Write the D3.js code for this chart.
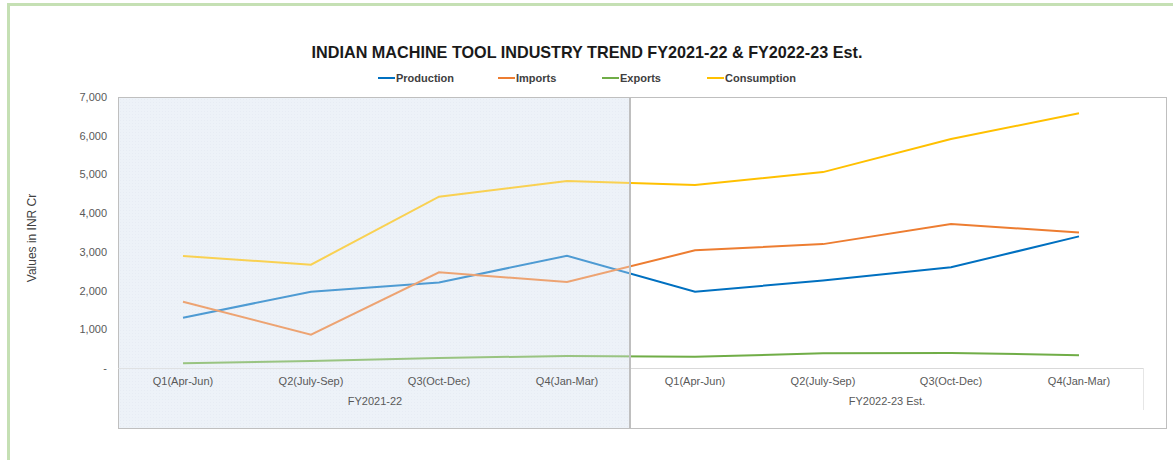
<!DOCTYPE html>
<html>
<head>
<meta charset="utf-8">
<script src="https://cdn.jsdelivr.net/npm/d3@7"></script>
<style>
  body { margin: 0; background: #fff; }
  text { font-family: "Liberation Sans", Arial, sans-serif; }
</style>
</head>
<body>
<div id="chart"></div>
<script>
// quarter labels and fiscal year groups
var quarters = ["Q1(Apr-Jun)", "Q2(July-Sep)", "Q3(Oct-Dec)", "Q4(Jan-Mar)",
                "Q1(Apr-Jun)", "Q2(July-Sep)", "Q3(Oct-Dec)", "Q4(Jan-Mar)"];
var years = ["FY2021-22", "FY2022-23 Est."];
var seriesNames = ["Production", "Imports", "Exports", "Consumption"];
var production  = [1300, 1970, 2210, 2900, 1970, 2260, 2600, 3400];
var imports     = [1710, 860, 2470, 2220, 3040, 3200, 3720, 3500];
var exports     = [120, 180, 260, 310, 290, 380, 390, 330];
var consumption = [2890, 2670, 4425, 4830, 4730, 5060, 5915, 6580];
var yTicks = [0, 1000, 2000, 3000, 4000, 5000, 6000, 7000];

var colors = ["#0070c0", "#ed7d31", "#70ad47", "#ffc000"];
var allSeries = [production, imports, exports, consumption];

var svg = d3.select("#chart").append("svg").attr("width", 1173).attr("height", 460);

// green outer frame
svg.append("rect").attr("x", 8.5).attr("y", 4.5).attr("width", 1180).attr("height", 470)
  .attr("fill", "none").attr("stroke", "#c5e0b4").attr("stroke-width", 3);

var plot = {left: 118, top: 97, right: 1166, bottom: 428};

var x = d3.scaleBand().domain(d3.range(quarters.length)).range([119, 1143]);
var y = d3.scaleLinear().domain([0, 7000]).range([368, 97]);
var cx = function(i) { return x(i) + x.bandwidth() / 2; };

// shaded first year background
var shadeRight = x(4) - 1;
var defs = svg.append("defs");
var pat = defs.append("pattern").attr("id", "dots").attr("width", 3).attr("height", 3)
  .attr("patternUnits", "userSpaceOnUse");
pat.append("rect").attr("width", 3).attr("height", 3).attr("fill", "#eef2f8");
pat.append("rect").attr("width", 1).attr("height", 1).attr("fill", "#e4e9f2");

svg.append("rect").attr("x", plot.left).attr("y", plot.top)
  .attr("width", shadeRight - plot.left).attr("height", plot.bottom - plot.top)
  .attr("fill", "url(#dots)");

// plot frame
svg.append("rect").attr("x", plot.left + 0.5).attr("y", plot.top + 0.5)
  .attr("width", plot.right - plot.left).attr("height", plot.bottom - plot.top)
  .attr("fill", "none").attr("stroke", "#bfbfbf");

// category axis line and box
var axisEnd = x.range()[1];
svg.append("line").attr("x1", plot.left).attr("x2", axisEnd)
  .attr("y1", y(0) + 0.5).attr("y2", y(0) + 0.5)
  .attr("stroke", "#d9d9d9");
svg.append("line").attr("x1", axisEnd + 0.5).attr("x2", axisEnd + 0.5)
  .attr("y1", y(0)).attr("y2", 410).attr("stroke", "#e6e6e6");

// lines
var line = d3.line().x(function(d, i) { return cx(i); }).y(function(d) { return y(d); });
svg.selectAll(".series").data(allSeries).enter().append("path")
  .attr("class", "series")
  .attr("d", line)
  .attr("fill", "none")
  .attr("stroke", function(d, i) { return colors[i]; })
  .attr("stroke-width", 2);

// pale overlay on the first year (lines look faded there)
svg.append("rect").attr("x", plot.left + 1).attr("y", plot.top + 1)
  .attr("width", shadeRight - plot.left - 1).attr("height", plot.bottom - plot.top - 1)
  .attr("fill", "#eef2f8").attr("opacity", 0.33);

// year divider
svg.append("line").attr("x1", shadeRight).attr("x2", shadeRight)
  .attr("y1", plot.top).attr("y2", plot.bottom)
  .attr("stroke", "#bfbfbf").attr("stroke-width", 2);

// y axis labels
svg.selectAll(".ytick").data(yTicks).enter().append("text")
  .attr("class", "ytick")
  .attr("x", 107).attr("y", function(d) { return y(d) + 4; })
  .attr("text-anchor", "end").attr("font-size", 11).attr("fill", "#595959")
  .text(function(d) { return d === 0 ? "-" : d3.format(",")(d); });

svg.append("text")
  .attr("transform", "translate(36," + 238 + ") rotate(-90)")
  .attr("text-anchor", "middle").attr("font-size", 12).attr("fill", "#404040")
  .text("Values in INR Cr");

// x labels
svg.selectAll(".xtick").data(quarters).enter().append("text")
  .attr("class", "xtick")
  .attr("x", function(d, i) { return cx(i); }).attr("y", 385)
  .attr("text-anchor", "middle").attr("font-size", 11).attr("fill", "#595959")
  .text(function(d) { return d; });

svg.selectAll(".year").data(years).enter().append("text")
  .attr("class", "year")
  .attr("x", function(d, i) { return (cx(i * 4) + cx(i * 4 + 3)) / 2; }).attr("y", 405)
  .attr("text-anchor", "middle").attr("font-size", 11).attr("fill", "#595959")
  .text(function(d) { return d; });

// title
svg.append("text").attr("x", 587).attr("y", 58)
  .attr("text-anchor", "middle").attr("font-size", 16.2).attr("font-weight", "bold")
  .attr("fill", "#1a1a1a")
  .text("INDIAN MACHINE TOOL INDUSTRY TREND FY2021-22 & FY2022-23 Est.");

// legend
var legendX = [378, 498, 602, 707];
var leg = svg.selectAll(".legend").data(seriesNames).enter().append("g")
  .attr("class", "legend")
  .attr("transform", function(d, i) { return "translate(" + legendX[i] + ",78)"; });
leg.append("line").attr("x1", 0).attr("x2", 17).attr("y1", 0).attr("y2", 0)
  .attr("stroke", function(d, i) { return colors[i]; }).attr("stroke-width", 2);
leg.append("text").attr("x", 18).attr("y", 4)
  .attr("font-size", 11).attr("font-weight", "bold").attr("fill", "#404040")
  .text(function(d) { return d; });
</script>
</body>
</html>
